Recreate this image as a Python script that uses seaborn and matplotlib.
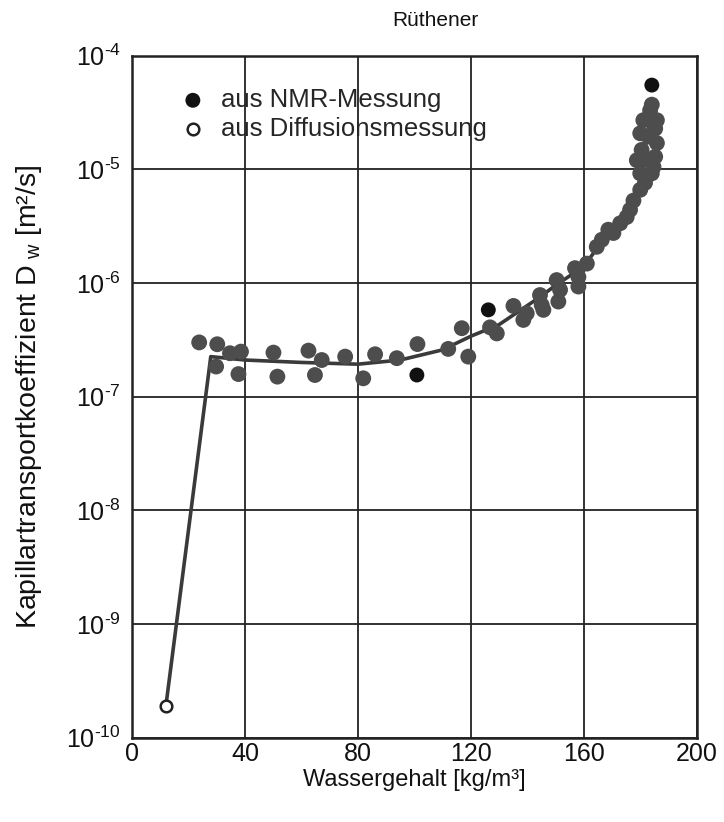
import numpy as np
import pandas as pd
import matplotlib
matplotlib.use("Agg")
import matplotlib.pyplot as plt
import seaborn as sns
from matplotlib.ticker import LogLocator, NullLocator, FixedLocator, FuncFormatter

# grey NMR points (scan shows them slightly lighter)
nmr_x = [23.8, 30.2, 29.8, 34.7, 38.6, 37.7, 50.1, 51.5, 62.5, 67.2, 64.8, 75.5, 81.9, 86.1,
         93.8, 101.1, 112.0, 116.8, 119.1, 126.8, 129.2, 135.1, 138.6, 144.5, 145.7, 150.4, 151.0,
         139.8, 145.1, 151.6, 156.9, 158.1, 158.1, 161.1, 164.6, 166.4, 168.7, 170.5, 172.9,
         175.2, 176.4, 177.6, 180.0, 181.7, 180.0, 184.7, 178.8, 185.3, 180.5, 185.9, 182.9,
         180.0, 185.3, 181.1, 185.9, 183.5, 184.1, 182.9, 184.1]
nmr_d = [3.0e-7, 2.89e-7, 1.84e-7, 2.41e-7, 2.49e-7, 1.58e-7, 2.44e-7, 1.5e-7, 2.54e-7, 2.1e-7,
         1.55e-7, 2.25e-7, 1.45e-7, 2.36e-7, 2.18e-7, 2.9e-7, 2.63e-7, 4.0e-7, 2.25e-7, 4.07e-7,
         3.6e-7, 6.28e-7, 4.73e-7, 7.83e-7, 5.8e-7, 1.06e-6, 6.86e-7,
         5.4e-7, 6.4e-7, 8.7e-7, 1.35e-6, 9.3e-7, 1.13e-6, 1.48e-6, 2.08e-6, 2.4e-6, 2.94e-6,
         2.75e-6, 3.35e-6, 3.8e-6, 4.4e-6, 5.3e-6, 6.6e-6, 7.6e-6, 9.2e-6, 1.05e-5, 1.2e-5,
         1.29e-5, 1.48e-5, 1.7e-5, 1.94e-5, 2.07e-5, 2.28e-5, 2.7e-5, 2.7e-5, 3.3e-5, 3.7e-5,
         1.2e-5, 9.2e-6]

# black NMR points
nmr_black_x = [100.9, 126.2, 184.1]
nmr_black_d = [1.55e-7, 5.8e-7, 5.5e-5]

# diffusion measurement
diff_x = [12.0]
diff_d = [1.9e-10]

# fitted curve
fit_x = [12.0, 27.9, 40, 60, 80, 95, 110, 120, 130, 143, 150, 160, 168, 175, 180, 184]
fit_d = [1.9e-10, 2.25e-7, 2.1e-7, 2.0e-7, 1.93e-7, 2.1e-7, 2.58e-7, 3.4e-7, 4.3e-7,
         7.1e-7, 9.5e-7, 1.4e-6, 2.6e-6, 4.2e-6, 8e-6, 3.5e-5]

x_ticks = [0, 40, 80, 120, 160, 200]

sns.set_style("white")
plt.rcParams['font.family'] = ['Liberation Sans', 'DejaVu Sans']
plt.rcParams['mathtext.fontset'] = 'custom'
plt.rcParams['mathtext.rm'] = 'Liberation Sans'
plt.rcParams['mathtext.it'] = 'Liberation Sans'
plt.rcParams['mathtext.sf'] = 'Liberation Sans'

fig = plt.figure(figsize=(7.24, 8.22), dpi=100)
ax = fig.add_axes([0.1823, 0.1025, 0.78, 0.8299])

ax.set_yscale('log')
ax.set_xlim(0, 200)
ax.set_ylim(1e-10, 1e-4)

fit_df = pd.DataFrame({'x': fit_x, 'd': fit_d})
sns.lineplot(data=fit_df, x='x', y='d', ax=ax, color='#3a3a3a', lw=2.6, sort=False, zorder=3)

grey_df = pd.DataFrame({'x': nmr_x, 'd': nmr_d})
sns.scatterplot(data=grey_df, x='x', y='d', ax=ax, color='#4d4d4d', s=130,
                edgecolor='none', zorder=4)

black_df = pd.DataFrame({'x': nmr_black_x, 'd': nmr_black_d})
sns.scatterplot(data=black_df, x='x', y='d', ax=ax, color='#111111', s=115,
                edgecolor='none', zorder=5, label='aus NMR-Messung')

diff_df = pd.DataFrame({'x': diff_x, 'd': diff_d})
sns.scatterplot(data=diff_df, x='x', y='d', ax=ax, facecolor='white', edgecolor='#222222',
                linewidth=1.8, s=70, zorder=5, label='aus Diffusionsmessung')


def log_label(v, pos):
    e = int(round(np.log10(v)))
    return '10$^{\\mathregular{%s}}$' % ('\u2010' + str(-e) if e < 0 else str(e))


ax.xaxis.set_major_locator(FixedLocator(x_ticks))
ax.yaxis.set_major_locator(LogLocator(base=10, numticks=10))
ax.yaxis.set_major_formatter(FuncFormatter(log_label))
ax.yaxis.set_minor_locator(NullLocator())
ax.grid(True, which='major', color='#222222', lw=1.3)
ax.set_axisbelow(True)
for sp in ax.spines.values():
    sp.set_color('#222222')
    sp.set_linewidth(1.8)
ax.tick_params(axis='both', direction='in', length=5, width=1.3, colors='#222222',
               labelsize=18, labelcolor='#111111')
ax.tick_params(axis='x', pad=3)
ax.tick_params(axis='y', pad=8)

ax.set_xlabel('Wassergehalt [kg/m³]', fontsize=17, labelpad=2, color='#111111')
ax.set_ylabel('Kapillartransportkoeffizient D$_{\\ w}$ [m²/s]', fontsize=20.5, labelpad=16,
              color='#111111')

fig.text(435 / 724, 1 - 20 / 822, 'Rüthener', ha='center', va='center', fontsize=15,
         color='#111111')

leg = ax.legend(loc='upper left', bbox_to_anchor=(0.035, 0.975), frameon=False, fontsize=18.5,
                handletextpad=0.1, borderaxespad=0.2, labelspacing=0.2, markerscale=1.0)

fig.savefig('out.png', dpi=100)
